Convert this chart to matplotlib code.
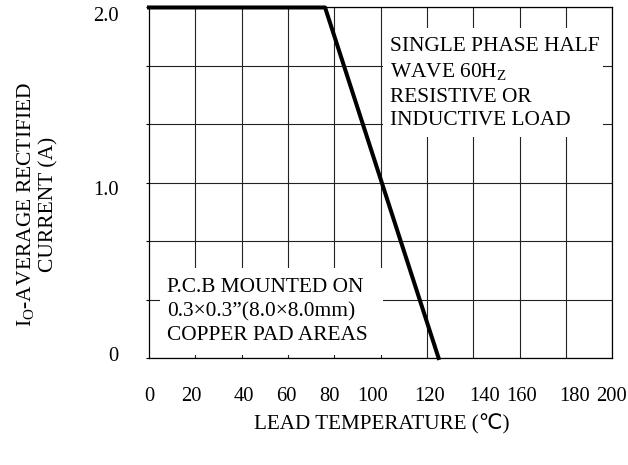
import matplotlib.pyplot as plt
import numpy as np
from matplotlib.patches import Rectangle

plt.rcParams['font.family'] = ['Liberation Serif', 'DejaVu Sans']
plt.rcParams['mathtext.fontset'] = 'custom'
plt.rcParams['mathtext.rm'] = 'Liberation Serif'

# derating curve
temp = [0, 76, 125]
current = [2.0, 2.0, 0.0]

# tick labels (placed where the datasheet prints them)
xtick_labels = ['0', '20', '40', '60', '80', '100', '120', '140', '160', '180', '200']
xtick_pos = [0, 18.4, 41.0, 59.4, 78.1, 96.5, 121.3, 145.0, 160.9, 183.9, 199.7]
ytick_labels = ['0', '1.0', '2.0']
ytick_pos = [0.02, 0.97, 1.96]

box1 = 'SINGLE PHASE HALF\nWAVE 60H$_\\mathrm{Z}$\nRESISTIVE OR\nINDUCTIVE LOAD'
box2 = 'P.C.B MOUNTED ON\n0.3\u00d70.3\u201d(8.0\u00d78.0mm)\nCOPPER PAD AREAS'

fig = plt.figure(figsize=(6.28, 4.65), dpi=100)
ax = fig.add_axes([0.2373, 0.2301, 0.7377, 0.7538])

# grid on minor ticks
ax.set_xticks(np.arange(0, 201, 20), minor=True)
ax.set_yticks(np.linspace(0, 2, 7), minor=True)
ax.grid(which='minor', color='#222222', linewidth=0.8)
ax.tick_params(axis='x', which='minor', length=0)
ax.tick_params(axis='y', which='minor', length=2, width=0.8)

ax.set_xticks(xtick_pos)
ax.set_xticklabels(xtick_labels)
ax.set_yticks(ytick_pos)
ax.set_yticklabels(ytick_labels)
ax.tick_params(axis='both', which='major', length=0, labelsize=14.8)
ax.tick_params(axis='x', which='major', pad=21)
ax.tick_params(axis='y', which='major', pad=22)

ax.set_xlim(0, 200)
ax.set_ylim(0, 2.0)

for s in ax.spines.values():
    s.set_linewidth(0.9)

# white label boxes
ax.add_patch(Rectangle((0.505, 0.6305), 0.475, 0.311, transform=ax.transAxes,
                       facecolor='white', edgecolor='none', zorder=2))
ax.add_patch(Rectangle((0.0237, 0.0086), 0.4813, 0.2482, transform=ax.transAxes,
                       facecolor='white', edgecolor='none', zorder=2))
ax.text(0.520, 0.916, box1, transform=ax.transAxes, fontsize=15.4, va='top',
        ha='left', linespacing=1.34, zorder=3)
ax.text(0.0388, 0.2277, box2, transform=ax.transAxes, fontsize=15.4, va='top',
        ha='left', linespacing=1.34, zorder=3)

ax.plot(temp, current, color='black', linewidth=2.9, clip_on=False, zorder=4)

fig.text(0.0589, 0.561, 'I$_\\mathrm{O}$-AVERAGE RECTIFIED\nCURRENT (A)',
         rotation=90, ha='center', va='center', multialignment='center',
         fontsize=15.5, linespacing=1.1)
fig.text(0.608, 1 - 424 / 465, 'LEAD TEMPERATURE (\u2103)', ha='center',
         va='center', fontsize=15.2)

plt.savefig('out.png', facecolor='w')
